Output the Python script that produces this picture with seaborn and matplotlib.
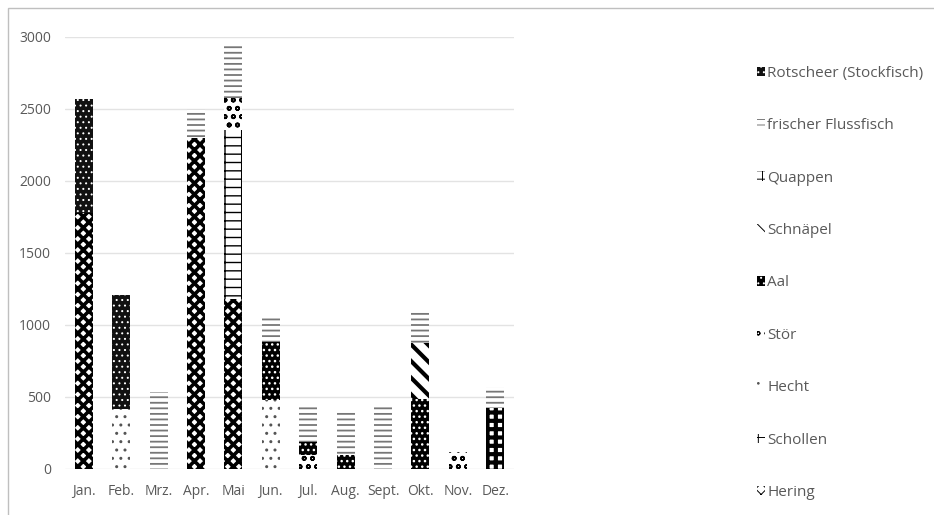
import matplotlib
matplotlib.use("Agg")
import matplotlib.pyplot as plt
import matplotlib.patches as mpatches
import numpy as np
import seaborn as sns

months = ["Jan.", "Feb.", "Mrz.", "Apr.", "Mai", "Jun.", "Jul.", "Aug.", "Sept.", "Okt.", "Nov.", "Dez."]

# Stacking order bottom -> top
hering = [1780, 0, 0, 2300, 1180, 0, 0, 0, 0, 0, 0, 0]
schollen = [0, 0, 0, 0, 1175, 0, 0, 0, 0, 0, 0, 0]
hecht = [0, 420, 0, 0, 0, 480, 0, 0, 0, 0, 0, 0]
stoer = [0, 0, 0, 0, 220, 0, 100, 0, 0, 0, 115, 0]
aal = [0, 0, 0, 0, 0, 400, 85, 95, 0, 485, 0, 0]
schnaepel = [0, 0, 0, 0, 0, 0, 0, 0, 0, 390, 0, 0]
quappen = [0, 0, 0, 0, 0, 0, 0, 0, 0, 0, 0, 425]
flussfisch = [0, 0, 535, 200, 375, 180, 265, 300, 445, 215, 0, 145]
rotscheer = [790, 790, 0, 0, 0, 0, 0, 0, 0, 0, 0, 0]

series = [
    ("Hering", hering),
    ("Schollen", schollen),
    ("Hecht", hecht),
    ("Stör", stoer),
    ("Aal", aal),
    ("Schnäpel", schnaepel),
    ("Quappen", quappen),
    ("frischer Flussfisch", flussfisch),
    ("Rotscheer (Stockfisch)", rotscheer),
]

# face colour, hatch colour, hatch, hatch line width
styles = {
    "Hering": ("white", "black", "xxx", 2.6),
    "Schollen": ("white", "black", "--|", 1.0),
    "Hecht": ("white", "#555555", "..", 1.0),
    "Stör": ("white", "black", "oo", 1.2),
    "Aal": ("black", "white", "...", 1.0),
    "Schnäpel": ("white", "black", "\\\\", 3.0),
    "Quappen": ("white", "black", "++", 3.0),
    "frischer Flussfisch": ("white", "#777777", "---", 1.3),
    "Rotscheer (Stockfisch)": ("#111111", "white", "...", 0.7),
}

sns.set_theme(style="white")
plt.rcParams["font.family"] = ["Open Sans", "DejaVu Sans"]

fig = plt.figure(figsize=(9.34, 5.15), dpi=100)
ax = fig.add_axes([65 / 934, 1 - 469 / 515, 449 / 934, 432 / 515])

bottom = np.zeros(len(months))
for name, vals in series:
    fc, hc, hatch, hlw = styles[name]
    plt.rcParams["hatch.linewidth"] = hlw
    n_before = len(ax.patches)
    sns.barplot(x=months, y=vals, bottom=bottom, color=fc, edgecolor=hc,
                hatch=hatch, linewidth=0, width=0.48, ax=ax, zorder=3,
                saturation=1)
    for p in ax.patches[n_before:]:
        p.set_facecolor(fc)
        p.set_edgecolor(hc)
        p.set_hatch(hatch)
        p.set_linewidth(0)
        if hasattr(p, "set_hatch_linewidth"):
            p.set_hatch_linewidth(hlw)
    bottom = bottom + np.array(vals)

ax.set_ylim(0, 3000)
ax.set_xlim(-0.5, len(months) - 0.5)
ax.set_yticks(range(0, 3001, 500))
ax.yaxis.grid(True, color="#e3e3e3", linewidth=1.0, zorder=0)
ax.set_axisbelow(True)
for s in ax.spines.values():
    s.set_visible(False)
ax.tick_params(axis="both", length=0, labelsize=10, colors="#595959")
ax.tick_params(axis="y", pad=10)
ax.tick_params(axis="x", pad=11)
ax.set_xlabel("")
ax.set_ylabel("")

# Legend (reverse of stacking order)
handles = []
for name, _ in reversed(series):
    fc, hc, hatch, hlw = styles[name]
    handles.append(mpatches.Patch(facecolor=fc, edgecolor=hc, hatch=hatch,
                                  linewidth=0, label=name))
leg = fig.legend(handles=handles, loc="upper left",
                 bbox_to_anchor=(749 / 934, 1 - 58 / 515), frameon=False,
                 fontsize=11, labelcolor="#595959", handlelength=0.55,
                 handleheight=0.55, handletextpad=0.15, labelspacing=2.45,
                 borderpad=0)

# Chart-area border
fig.add_artist(mpatches.Rectangle((8 / 934, -0.1), 1.0, 1 - 8 / 515 + 0.1,
                                  transform=fig.transFigure, fill=False,
                                  edgecolor="#bfbfbf", linewidth=1.0))

fig.savefig("out.png", dpi=100)
